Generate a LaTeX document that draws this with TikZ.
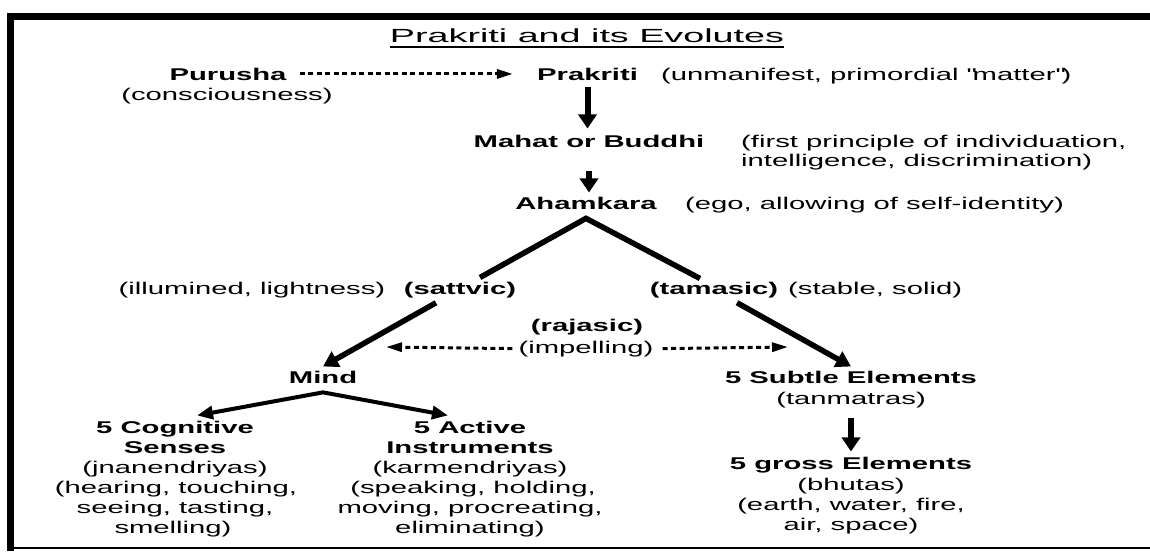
\documentclass[tikz,border=0pt]{standalone}
\usepackage{fontspec}
\setmainfont{Liberation Sans}[FakeStretch=1.72]
\usetikzlibrary{arrows.meta}
\begin{document}
\begin{tikzpicture}[x=1pt,y=-1pt,
  font=\fontsize{17}{20}\selectfont,
  txt/.style={inner sep=0pt, anchor=base},
  lt/.style={inner sep=0pt, anchor=base west},
  b/.style={txt, font=\fontsize{17}{20}\selectfont\bfseries},
  thickarrow/.style={line width=6pt, -{Triangle[width=18pt,length=14pt]}},
  slantarrow/.style={line width=5.5pt, -{Triangle[width=17pt,length=15pt]}},
  vline/.style={line width=5.5pt, line join=miter},
  twoarrow/.style={line width=4pt, line join=miter,
    {Triangle[width=13pt,length=16pt]}-{Triangle[width=13pt,length=16pt]}},
  dotarrow/.style={line width=3pt, dash pattern=on 5pt off 3.5pt,
    -{Triangle[width=9pt,length=16pt]}}]
\useasboundingbox (0,0) rectangle (1150,551);
\fill[white] (0,0) rectangle (1150,551);
% frame
\fill[black] (7,13) rectangle (1150,20);
\fill[black] (7,13) rectangle (14,551);
\draw[line width=2pt] (7,548) -- (1150,548);
% title
\node[txt, font=\fontsize{19}{22}\selectfont] (title) at (587,43) {\resizebox{394pt}{\height}{Prakriti and its Evolutes}};
\draw[line width=2pt] ([yshift=-3.5pt]title.south west) -- ([yshift=-3.5pt]title.south east);
% top rows
\node[b] (purusha) at (228,80) {Purusha};
\node[txt] (consc) at (227,100) {(consciousness)};
\node[b] (prakriti) at (587.5,80) {Prakriti};
\node[lt] (unman) at (661,80) {(unmanifest, primordial \textquotedbl matter\textquotedbl)};
\node[b] (mahat) at (589,147) {Mahat or Buddhi};
\node[lt] (mahatd1) at (741,147) {(first principle of individuation,};
\node[lt] (mahatd2) at (741,166) {intelligence, discrimination)};
\node[b] (ahamkara) at (586,209) {Ahamkara};
\node[lt] (ego) at (685,209) {(ego, allowing of self-identity)};
% gunas
\node[txt] (illum) at (252,294) {(illumined, lightness)};
\node[b] (sattvic) at (460,294) {(sattvic)};
\node[b] (tamasic) at (714,294) {(tamasic)};
\node[lt] (stable) at (788,294) {(stable, solid)};
\node[b] (rajasic) at (587,331) {(rajasic)};
\node[txt] (impel) at (586,353) {(impelling)};
% lower level
\node[b] (mind) at (323,383) {Mind};
\node[b] (subtle) at (851,383) {5 Subtle Elements};
\node[txt] (tanm) at (851,404) {(tanmatras)};
\node[b] (gross) at (851,469) {5 gross Elements};
\node[txt] (bhutas) at (851,490) {(bhutas)};
\node[txt] (gross3) at (851,510) {(earth, water, fire,};
\node[txt] (gross4) at (851,530) {air, space)};
\node[b] (cog1) at (175,433) {5 Cognitive};
\node[b] (cog2) at (175,453) {Senses};
\node[txt] (cog3) at (175,473) {(jnanendriyas)};
\node[txt] (cog4) at (176,493) {(hearing, touching,};
\node[txt] (cog5) at (175,513) {seeing, tasting,};
\node[txt] (cog6) at (173,533) {smelling)};
\node[b] (act1) at (470,433) {5 Active};
\node[b] (act2) at (470,453) {Instruments};
\node[txt] (act3) at (470,473) {(karmendriyas)};
\node[txt] (act4) at (473,493) {(speaking, holding,};
\node[txt] (act5) at (470,513) {moving, procreating,};
\node[txt] (act6) at (470,533) {eliminating)};
% connectors
\draw[dotarrow] ([xshift=13pt]purusha.east) -- ([xshift=-24pt]prakriti.west);
\draw[thickarrow] ([yshift=-7pt]prakriti.south) -- ([yshift=6pt]prakriti.south |- mahat.north);
\draw[thickarrow] ([yshift=-24pt]mahat.south) -- ([yshift=4pt]mahat.south |- ahamkara.north);
\coordinate (apex) at ([yshift=-9pt]ahamkara.south);
\draw[vline] ([xshift=20pt,yshift=4pt]sattvic.north) -- (apex) -- ([xshift=-14pt,yshift=3pt]tamasic.north);
\draw[slantarrow] ([xshift=-24pt,yshift=-5pt]sattvic.south) -- ([yshift=4pt]mind.north);
\draw[slantarrow] ([xshift=23pt,yshift=-5pt]tamasic.south) -- ([yshift=4pt]subtle.north);
\coordinate (rajL) at (386,347);
\coordinate (rajR) at (788,347);
\draw[dotarrow] ([xshift=-6pt]impel.west) -- (rajL);
\draw[dotarrow] ([xshift=9pt]impel.east) -- (rajR);
\coordinate (mapex) at ([yshift=-9pt]mind.south);
\draw[twoarrow] ([xshift=22pt,yshift=5pt]cog1.north) -- (mapex) -- ([xshift=-22pt,yshift=5pt]act1.north);
\draw[thickarrow] ([yshift=-10pt]tanm.south) -- ([yshift=5pt]gross.north);
\end{tikzpicture}
\end{document}
